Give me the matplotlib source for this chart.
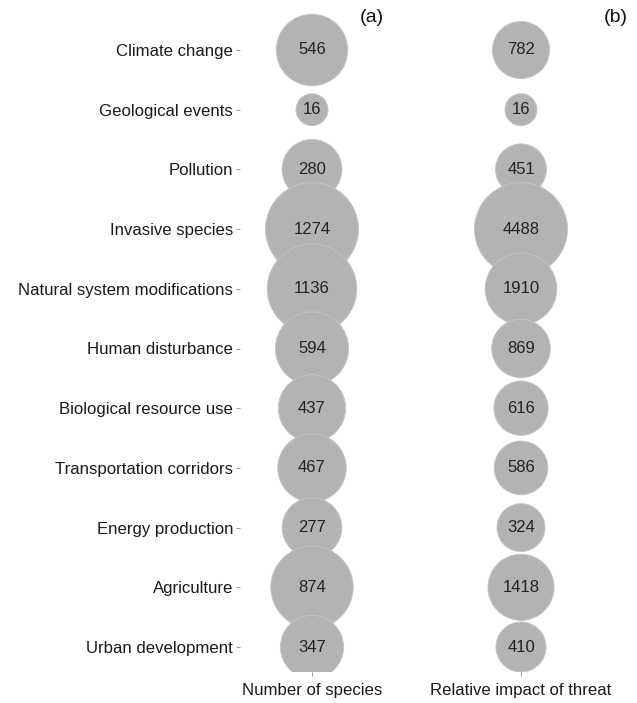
import matplotlib
matplotlib.use("Agg")
import matplotlib.pyplot as plt
import numpy as np

plt.rcParams["font.family"] = ["Liberation Sans", "DejaVu Sans"]

categories = [
    "Climate change",
    "Geological events",
    "Pollution",
    "Invasive species",
    "Natural system modifications",
    "Human disturbance",
    "Biological resource use",
    "Transportation corridors",
    "Energy production",
    "Agriculture",
    "Urban development",
]
n_species = [546, 16, 280, 1274, 1136, 594, 437, 467, 277, 874, 347]
impact = [782, 16, 451, 4488, 1910, 869, 616, 586, 324, 1418, 410]
panel_labels = ["Number of species", "Relative impact of threat"]
panel_tags = ["(a)", "(b)"]

W, H = 637, 703
fig = plt.figure(figsize=(W / 100, H / 100), dpi=100)

# axes placed in pixel coordinates
left_px, right_px, top_px, bottom_px = 240, 630, 10, 672
ax = fig.add_axes([left_px / W, 1 - bottom_px / H,
                   (right_px - left_px) / W, (bottom_px - top_px) / H])

# x: col 0 at 312 px, col 1 at 521 px
px_per_x = 521 - 312
ax.set_xlim((left_px - 312) / px_per_x, (right_px - 312) / px_per_x)
# y: row 0 at 50 px, row 10 at 647 px
px_per_y = (647 - 50) / 10
ax.set_ylim(10 + (bottom_px - 647) / px_per_y, -(50 - top_px) / px_per_y)


def diam(vals, dmin=32, dmax=93):
    # ggplot-like area scale, per panel
    v = np.asarray(vals, float)
    r = (v - v.min()) / (v.max() - v.min())
    return dmin + (dmax - dmin) * np.sqrt(r)


y = np.arange(len(categories))
for col, vals in enumerate([n_species, impact]):
    d_pt = diam(vals) * 72 / 100
    ax.scatter(np.full(len(vals), col), y, s=d_pt ** 2, color="#b3b3b3",
               edgecolors="#c6c6c6", linewidths=0.6, zorder=2)
    for yi, v in zip(y, vals):
        ax.text(col, yi, str(v), ha="center", va="center", fontsize=12,
                color="#222222", zorder=3)

ax.set_yticks(y)
ax.set_yticklabels(categories, fontsize=12.1, color="#1a1a1a")
ax.set_xticks([0, 1])
ax.set_xticklabels(panel_labels, fontsize=12.1, color="#1a1a1a")
ax.tick_params(axis="both", length=3, width=0.6, color="#888888", pad=2)
ax.tick_params(axis="x", pad=5)

for s in ax.spines.values():
    s.set_visible(False)

fig.text(372 / W, 1 - 18 / H, panel_tags[0], fontsize=14, ha="center",
         va="center", color="#111111")
fig.text(616 / W, 1 - 18 / H, panel_tags[1], fontsize=14, ha="center",
         va="center", color="#111111")

fig.savefig("out.png", dpi=100)
